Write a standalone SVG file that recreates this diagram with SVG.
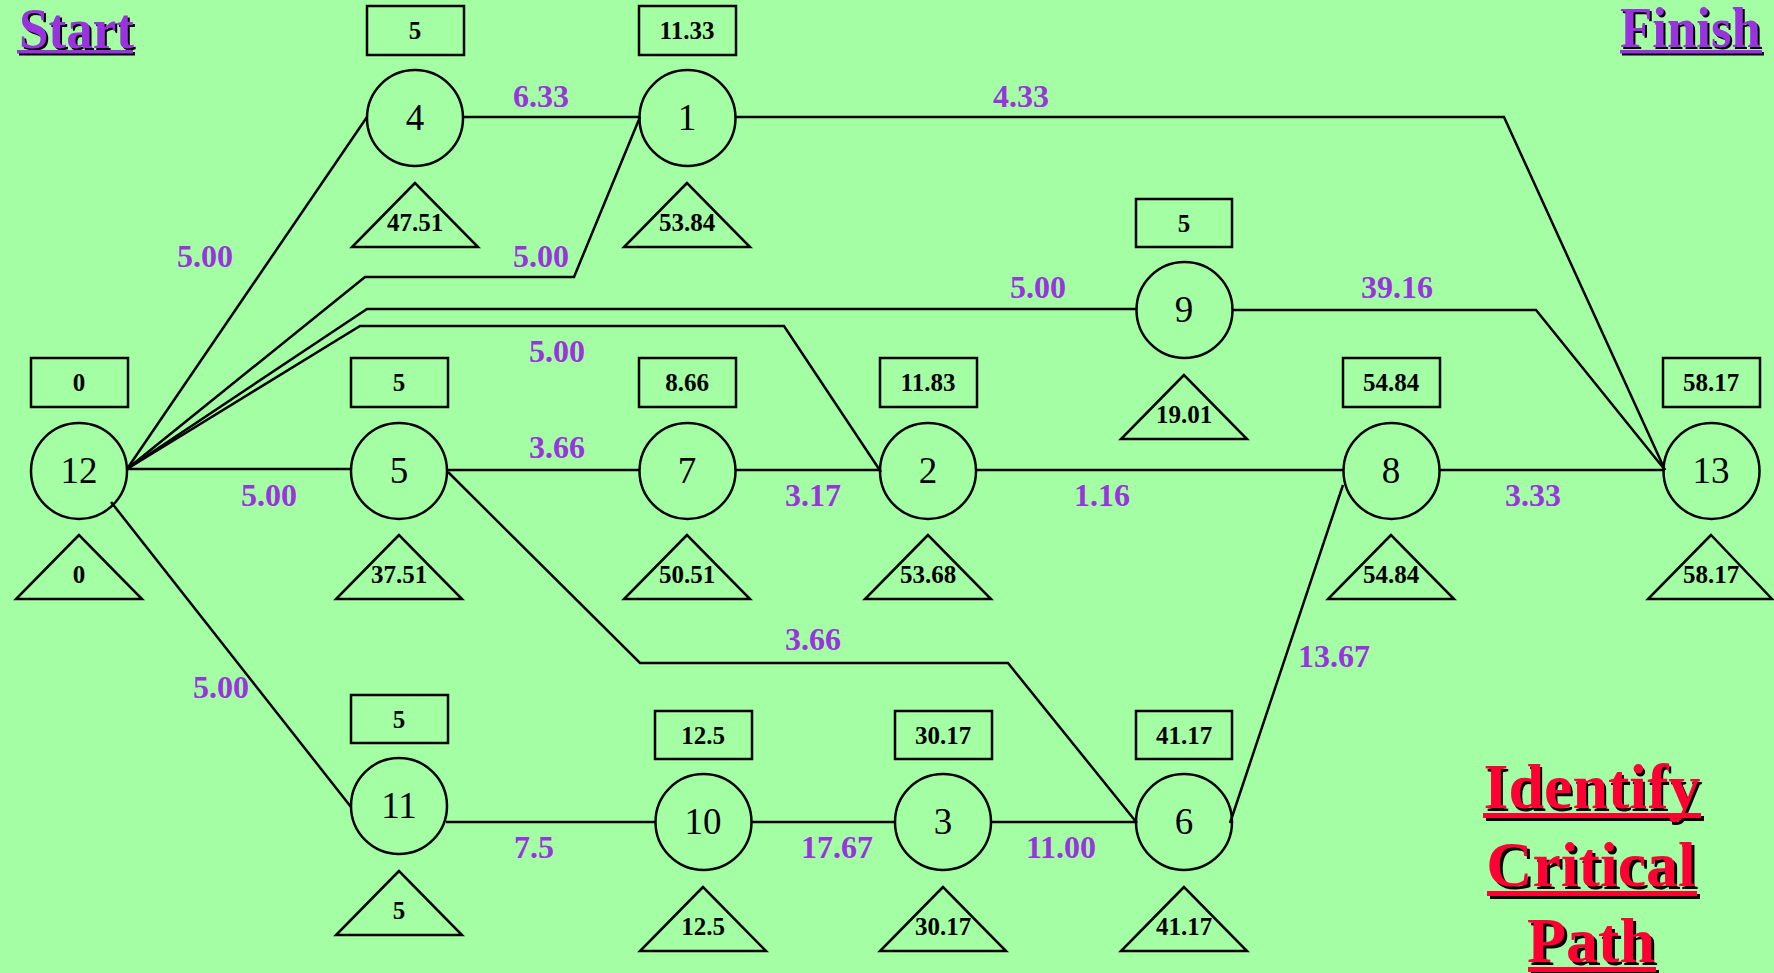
<svg xmlns="http://www.w3.org/2000/svg" width="1774" height="973" viewBox="0 0 1774 973">
<style>
.bg{fill:#A4FFA4}
.c{fill:none;stroke:#000;stroke-width:2.5}
.sh{fill:none;stroke:#000;stroke-width:2.5}
.e{fill:none;stroke:#000;stroke-width:2.5;stroke-linejoin:miter}
.nl{font-family:"Liberation Serif","Times New Roman",serif;font-size:37px;fill:#000;text-anchor:middle}
.v{font-family:"Liberation Serif","Times New Roman",serif;font-size:25px;font-weight:bold;fill:#000;text-anchor:middle}
.el{font-family:"Liberation Serif","Times New Roman",serif;font-size:32px;font-weight:bold;fill:#9933DD;text-anchor:middle}
.tp{font-family:"Liberation Serif","Times New Roman",serif;font-size:57px;font-weight:bold;fill:#9933DD}
.tr{font-family:"Liberation Serif","Times New Roman",serif;font-size:64px;font-weight:bold;fill:#FF0033;text-anchor:middle}
.sd{fill:#000}
</style>
<rect class="bg" x="0" y="0" width="1774" height="973"/>

<g id="connectors">
<polyline class="e" points="127,469 367,117"/>
<polyline class="e" points="127,469 365,277 574,277 640,117"/>
<polyline class="e" points="127,469 367,309 1137,309"/>
<polyline class="e" points="127,469 360,326 784,326 881,472"/>
<polyline class="e" points="127,469 351,469"/>
<polyline class="e" points="111,502 351,807"/>
<polyline class="e" points="463,117 639,117"/>
<polyline class="e" points="736,117 1504,117 1665,470"/>
<polyline class="e" points="1232,310 1536,310 1665,470"/>
<polyline class="e" points="447,470 639,470"/>
<polyline class="e" points="736,470 880,470"/>
<polyline class="e" points="976,470 1344,470"/>
<polyline class="e" points="1439,470 1665,470"/>
<polyline class="e" points="448,472 640,663 1008,663 1137,823"/>
<polyline class="e" points="1230,823 1343,485"/>
<polyline class="e" points="446,822 655,822"/>
<polyline class="e" points="752,822 895,822"/>
<polyline class="e" points="991,822 1136,822"/>
<text class="el" x="205" y="267">5.00</text>
<text class="el" x="541" y="107">6.33</text>
<text class="el" x="541" y="267">5.00</text>
<text class="el" x="1021" y="107">4.33</text>
<text class="el" x="1038" y="298">5.00</text>
<text class="el" x="1397" y="298">39.16</text>
<text class="el" x="557" y="362">5.00</text>
<text class="el" x="557" y="458">3.66</text>
<text class="el" x="269" y="506">5.00</text>
<text class="el" x="813" y="506">3.17</text>
<text class="el" x="1102" y="506">1.16</text>
<text class="el" x="1533" y="506">3.33</text>
<text class="el" x="813" y="650">3.66</text>
<text class="el" x="1334" y="667">13.67</text>
<text class="el" x="221" y="698">5.00</text>
<text class="el" x="534" y="858">7.5</text>
<text class="el" x="837" y="858">17.67</text>
<text class="el" x="1061" y="858">11.00</text>
</g>

<g id="node-12">
<rect class="sh" x="31" y="358" width="97" height="49"/><text class="v" x="79" y="391">0</text>
<circle class="c" cx="79" cy="471" r="48"/><text class="nl" x="79" y="483">12</text>
<polygon class="sh" points="79,535 16,599 142,599"/><text class="v" x="79" y="583">0</text>
</g>
<g id="node-4">
<rect class="sh" x="367" y="6" width="97" height="49"/><text class="v" x="415" y="39">5</text>
<circle class="c" cx="415" cy="118" r="48"/><text class="nl" x="415" y="130">4</text>
<polygon class="sh" points="415,183 352,247 478,247"/><text class="v" x="415" y="231">47.51</text>
</g>
<g id="node-1">
<rect class="sh" x="639" y="6" width="97" height="49"/><text class="v" x="687" y="39">11.33</text>
<circle class="c" cx="687.5" cy="118" r="48"/><text class="nl" x="687" y="130">1</text>
<polygon class="sh" points="687,183 624,247 750,247"/><text class="v" x="687" y="231">53.84</text>
</g>
<g id="node-9">
<rect class="sh" x="1136" y="199" width="96" height="48"/><text class="v" x="1184" y="232">5</text>
<circle class="c" cx="1184.5" cy="310" r="48"/><text class="nl" x="1184" y="322">9</text>
<polygon class="sh" points="1184,375 1121,439 1247,439"/><text class="v" x="1184" y="423">19.01</text>
</g>
<g id="node-5">
<rect class="sh" x="351" y="358" width="97" height="49"/><text class="v" x="399" y="391">5</text>
<circle class="c" cx="399" cy="471" r="48"/><text class="nl" x="399" y="483">5</text>
<polygon class="sh" points="399,535 336,599 462,599"/><text class="v" x="399" y="583">37.51</text>
</g>
<g id="node-7">
<rect class="sh" x="639" y="358" width="97" height="49"/><text class="v" x="687" y="391">8.66</text>
<circle class="c" cx="687.5" cy="471" r="48"/><text class="nl" x="687" y="483">7</text>
<polygon class="sh" points="687,535 624,599 750,599"/><text class="v" x="687" y="583">50.51</text>
</g>
<g id="node-2">
<rect class="sh" x="880" y="358" width="97" height="49"/><text class="v" x="928" y="391">11.83</text>
<circle class="c" cx="928" cy="471" r="48"/><text class="nl" x="928" y="483">2</text>
<polygon class="sh" points="928,535 865,599 991,599"/><text class="v" x="928" y="583">53.68</text>
</g>
<g id="node-8">
<rect class="sh" x="1343" y="358" width="97" height="49"/><text class="v" x="1391" y="391">54.84</text>
<circle class="c" cx="1391.5" cy="471" r="48"/><text class="nl" x="1391" y="483">8</text>
<polygon class="sh" points="1391,535 1328,599 1454,599"/><text class="v" x="1391" y="583">54.84</text>
</g>
<g id="node-13">
<rect class="sh" x="1663" y="358" width="97" height="49"/><text class="v" x="1711" y="391">58.17</text>
<circle class="c" cx="1711.5" cy="471" r="48"/><text class="nl" x="1711" y="483">13</text>
<polygon class="sh" points="1711,535 1648,599 1772,599"/><text class="v" x="1711" y="583">58.17</text>
</g>
<g id="node-11">
<rect class="sh" x="351" y="695" width="97" height="48"/><text class="v" x="399" y="728">5</text>
<circle class="c" cx="399" cy="806" r="48"/><text class="nl" x="399" y="818">11</text>
<polygon class="sh" points="399,871 336,935 462,935"/><text class="v" x="399" y="919">5</text>
</g>
<g id="node-10">
<rect class="sh" x="655" y="711" width="97" height="48"/><text class="v" x="703" y="744">12.5</text>
<circle class="c" cx="703.5" cy="822" r="48"/><text class="nl" x="703" y="834">10</text>
<polygon class="sh" points="703,887 640,951 766,951"/><text class="v" x="703" y="935">12.5</text>
</g>
<g id="node-3">
<rect class="sh" x="895" y="711" width="97" height="48"/><text class="v" x="943" y="744">30.17</text>
<circle class="c" cx="943" cy="822" r="48"/><text class="nl" x="943" y="834">3</text>
<polygon class="sh" points="943,887 880,951 1006,951"/><text class="v" x="943" y="935">30.17</text>
</g>
<g id="node-6">
<rect class="sh" x="1136" y="711" width="96" height="48"/><text class="v" x="1184" y="744">41.17</text>
<circle class="c" cx="1184" cy="822" r="48"/><text class="nl" x="1184" y="834">6</text>
<polygon class="sh" points="1184,887 1121,951 1247,951"/><text class="v" x="1184" y="935">41.17</text>
</g>

<g id="title-start">
<text class="tp sd" x="21" y="50" textLength="115" lengthAdjust="spacingAndGlyphs" style="fill:#000">Start</text>
<rect class="sd" x="19" y="52" width="116" height="3.5"/>
<text class="tp" x="19" y="48" textLength="115" lengthAdjust="spacingAndGlyphs">Start</text>
<rect x="17" y="50" width="116" height="3.5" fill="#9933DD"/>
</g>
<g id="title-finish">
<text class="tp" x="1622" y="49" textLength="141" lengthAdjust="spacingAndGlyphs" style="fill:#000">Finish</text>
<rect class="sd" x="1622" y="52" width="142" height="3.5"/>
<text class="tp" x="1620" y="47" textLength="141" lengthAdjust="spacingAndGlyphs">Finish</text>
<rect x="1620" y="50" width="142" height="3.5" fill="#9933DD"/>
</g>
<g id="title-identify">
<text class="tr" x="1594" y="811" style="fill:#000">Identify</text>
<rect class="sd" x="1486" y="816" width="218" height="5"/>
<text class="tr" x="1592" y="808">Identify</text>
<rect x="1483" y="813" width="218" height="5" fill="#FF0033"/>
<text class="tr" x="1594" y="889" style="fill:#000">Critical</text>
<rect class="sd" x="1490" y="894" width="210" height="5"/>
<text class="tr" x="1591" y="886">Critical</text>
<rect x="1487" y="891" width="210" height="5" fill="#FF0033"/>
<text class="tr" x="1594" y="965" style="fill:#000">Path</text>
<rect class="sd" x="1531" y="970" width="128" height="5"/>
<text class="tr" x="1591" y="962">Path</text>
<rect x="1528" y="967" width="128" height="5" fill="#FF0033"/>
</g>
</svg>
